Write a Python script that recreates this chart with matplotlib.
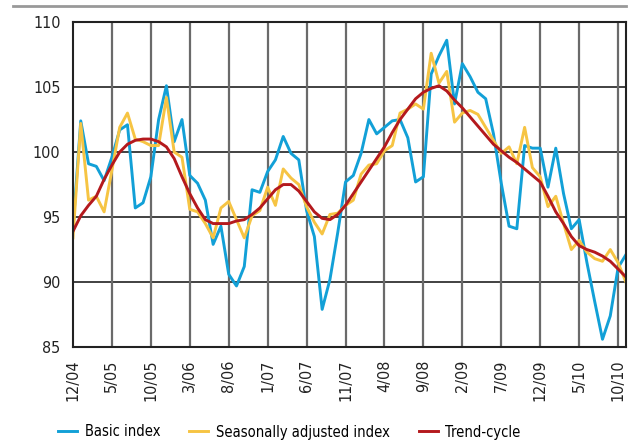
import matplotlib
matplotlib.use('Agg')
import matplotlib.pyplot as plt
from matplotlib.lines import Line2D

plt.rcParams['font.family'] = ['DejaVu Sans']
plt.rcParams['font.stretch'] = 'condensed'

tick_labels = ['12/04', '5/05', '10/05', '3/06', '8/06', '1/07', '6/07', '11/07',
               '4/08', '9/08', '2/09', '7/09', '12/09', '5/10', '10/10']

basic = [94.1, 102.4, 99.1, 98.9, 97.8, 99.6, 101.7, 102.1, 95.7, 96.1,
         98.1, 102.5, 105.1, 100.8, 102.5, 98.2, 97.6, 96.3, 92.9, 94.3,
         90.6, 89.7, 91.2, 97.1, 96.9, 98.5, 99.4, 101.2, 99.9, 99.4,
         95.5, 93.5, 87.9, 90.2, 93.8, 97.7, 98.2, 99.9, 102.5, 101.4,
         101.9, 102.4, 102.5, 101.1, 97.7, 98.1, 106.0, 107.4, 108.6, 103.7,
         106.8, 105.8, 104.6, 104.1, 101.4, 97.6, 94.3, 94.1, 100.5, 100.3,
         100.3, 97.3, 100.3, 96.8, 94.1, 94.8, 91.5, 88.5, 85.6, 87.4,
         91.1, 92.1]

seas_adj = [93.4, 102.2, 96.3, 96.6, 95.4, 98.6, 101.9, 103.0, 101.0, 100.8,
            100.5, 100.5, 104.2, 100.0, 99.6, 95.6, 95.4, 94.5, 93.4, 95.7,
            96.2, 94.8, 93.4, 95.1, 95.5, 97.3, 95.9, 98.7, 98.0, 97.5,
            95.8, 94.6, 93.7, 95.2, 95.3, 95.9, 96.3, 98.3, 99.0, 99.1,
            100.1, 100.5, 103.0, 103.3, 103.7, 103.3, 107.6, 105.3, 106.2, 102.3,
            103.0, 103.2, 102.9, 101.9, 100.9, 99.9, 100.4, 99.1, 101.9, 98.8,
            98.1, 95.8, 96.6, 94.5, 92.5, 93.2, 92.3, 91.8, 91.6, 92.5,
            91.5, 90.0]

trend = [93.9, 95.1, 95.9, 96.6, 97.9, 99.0, 100.0, 100.6, 100.9, 101.0,
         101.0, 100.8, 100.4, 99.5, 98.1, 96.8, 95.7, 94.8, 94.5, 94.5,
         94.5, 94.7, 94.8, 95.2, 95.7, 96.4, 97.1, 97.5, 97.5, 97.0,
         96.2, 95.4, 94.9, 94.8, 95.2, 95.9, 96.8, 97.7, 98.6, 99.5,
         100.4, 101.5, 102.5, 103.3, 104.1, 104.6, 104.9, 105.1, 104.7, 104.0,
         103.4, 102.7, 102.0, 101.3, 100.6, 100.1, 99.6, 99.2, 98.7, 98.2,
         97.7, 96.6, 95.4, 94.5, 93.5, 92.8, 92.5, 92.3, 92.0, 91.6,
         91.0, 90.4]

months = list(range(len(basic)))

fig = plt.figure(figsize=(6.29, 4.41), dpi=100)
ax = fig.add_axes([0.116, 0.213, 0.879, 0.737])

ax.plot(months, basic, color='#12a0d7', lw=2.1, label='Basic index')
ax.plot(months, seas_adj, color='#f6c443', lw=2.1, label='Seasonally adjusted index')
ax.plot(months, trend, color='#b4191d', lw=2.1, label='Trend-cycle')

ax.set_xlim(0, len(basic) - 1)
ax.set_ylim(85, 110)
ax.set_yticks([85, 90, 95, 100, 105, 110])
ax.set_xticks(range(0, 71, 5))
ax.set_xticklabels(tick_labels, rotation=90)
ax.tick_params(length=0, labelsize=11.5, colors='#222222', pad=9)

for y in [90, 95, 100, 105]:
    ax.axhline(y, color='#333333', lw=1.3, zorder=0)
for x in range(5, 71, 5):
    ax.axvline(x, color='#6a6a6a', lw=1.6, zorder=0)
for s in ax.spines.values():
    s.set_color('#222222')
    s.set_linewidth(1.5)

# grey rule at the very top
fig.add_artist(Line2D([13 / 629, 626 / 629], [1 - 6 / 441, 1 - 6 / 441],
                      color='#999999', lw=2))

fig.legend(loc='center', bbox_to_anchor=(0.46, 1 - 432 / 441), ncol=3, frameon=False,
           fontsize=10.5, handlelength=1.3, handletextpad=0.5, columnspacing=2.0,
           borderpad=0)

fig.savefig('out.png', dpi=100)
